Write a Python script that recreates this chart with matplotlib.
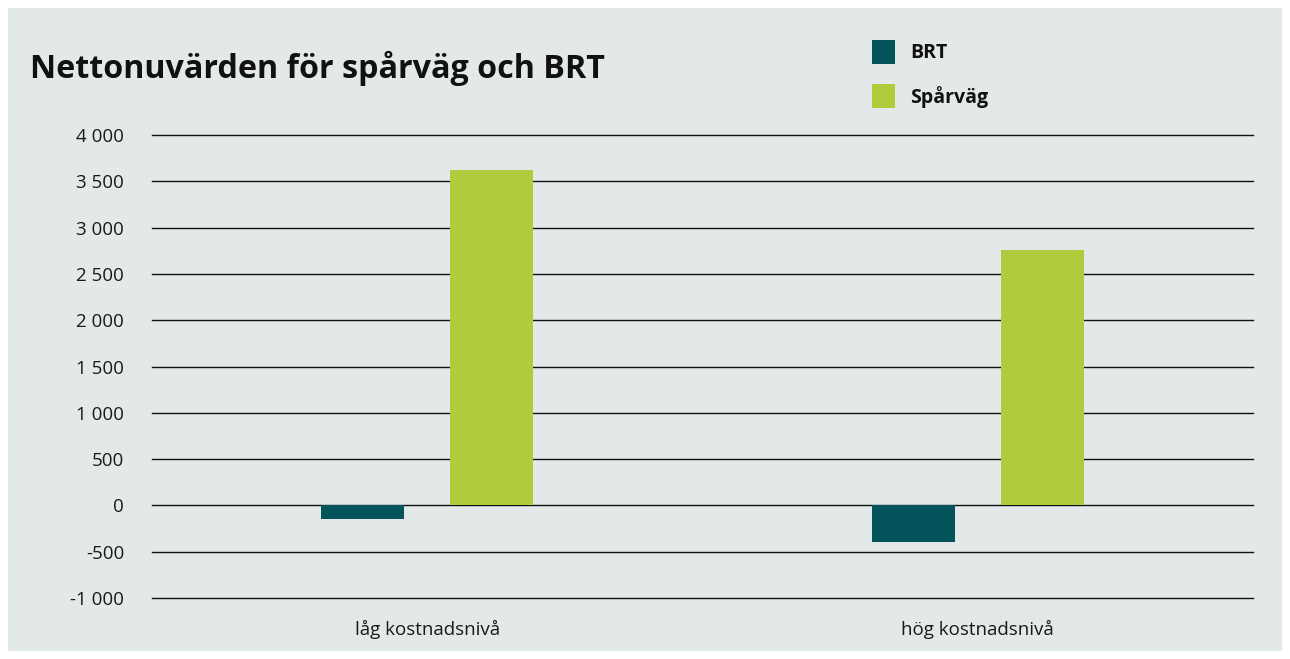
import numpy as np
import matplotlib.pyplot as plt
import matplotlib.ticker as mtick
from matplotlib.patches import Rectangle

categories = ['låg kostnadsnivå', 'hög kostnadsnivå']
brt = [-150, -390]
sparvag = [3620, 2760]
series_names = ['BRT', 'Spårväg']
yticks = np.arange(-1000, 4001, 500)

bg = '#e3e9e9'
c_brt = '#04545c'
c_spv = '#b0cb3b'

plt.rcParams['font.family'] = ['Open Sans', 'DejaVu Sans']

fig = plt.figure(figsize=(12.9, 6.59), dpi=100)
fig.patch.set_facecolor('white')
fig.patches.append(Rectangle((8 / 1290, 8 / 659), 1274 / 1290, 643 / 659,
                             transform=fig.transFigure, facecolor=bg,
                             edgecolor='none', zorder=-10))

ax = fig.add_axes([152 / 1290, 1 - 598 / 659, 1101 / 1290, 463 / 659])
ax.set_facecolor(bg)

x = np.arange(len(categories))
w = 0.151
off = 0.117
ax.bar(x - off, brt, w, color=c_brt, zorder=3, label=series_names[0])
ax.bar(x + off, sparvag, w, color=c_spv, zorder=3, label=series_names[1])

ax.set_xlim(-0.5, len(categories) - 0.5)
ax.set_ylim(-1000, 4000)
ax.set_yticks(yticks)
ax.yaxis.set_major_formatter(mtick.FuncFormatter(
    lambda v, p: '{:,.0f}'.format(v).replace(',', ' ')))
ax.set_xticks(x)
ax.set_xticklabels(categories)
ax.tick_params(axis='both', length=0, labelsize=13.5, colors='#1a1a1a')
ax.tick_params(axis='y', pad=20)
ax.tick_params(axis='x', pad=16)
ax.grid(axis='y', color='#111111', linewidth=1.0, zorder=1)
for gl in ax.get_ygridlines():
    gl.set_clip_on(False)
for s in ax.spines.values():
    s.set_visible(False)

fig.text(30 / 1290, 1 - 68 / 659, 'Nettonuvärden för spårväg och BRT',
         fontsize=23.2, fontweight='bold', va='center', ha='left', color='#111111')

# legend drawn by hand to match the boxed layout
for i, (name, col) in enumerate(zip(series_names, [c_brt, c_spv])):
    yc = 52 + i * 44
    fig.patches.append(Rectangle((872 / 1290, 1 - (yc + 12) / 659), 23 / 1290, 24 / 659,
                                 transform=fig.transFigure, facecolor=col,
                                 edgecolor='none'))
    fig.text(910 / 1290, 1 - (yc + 1) / 659, name, fontsize=14, fontweight='bold',
             va='center', ha='left', color='#111111')

plt.savefig('out.png', dpi=100, facecolor=fig.get_facecolor())
